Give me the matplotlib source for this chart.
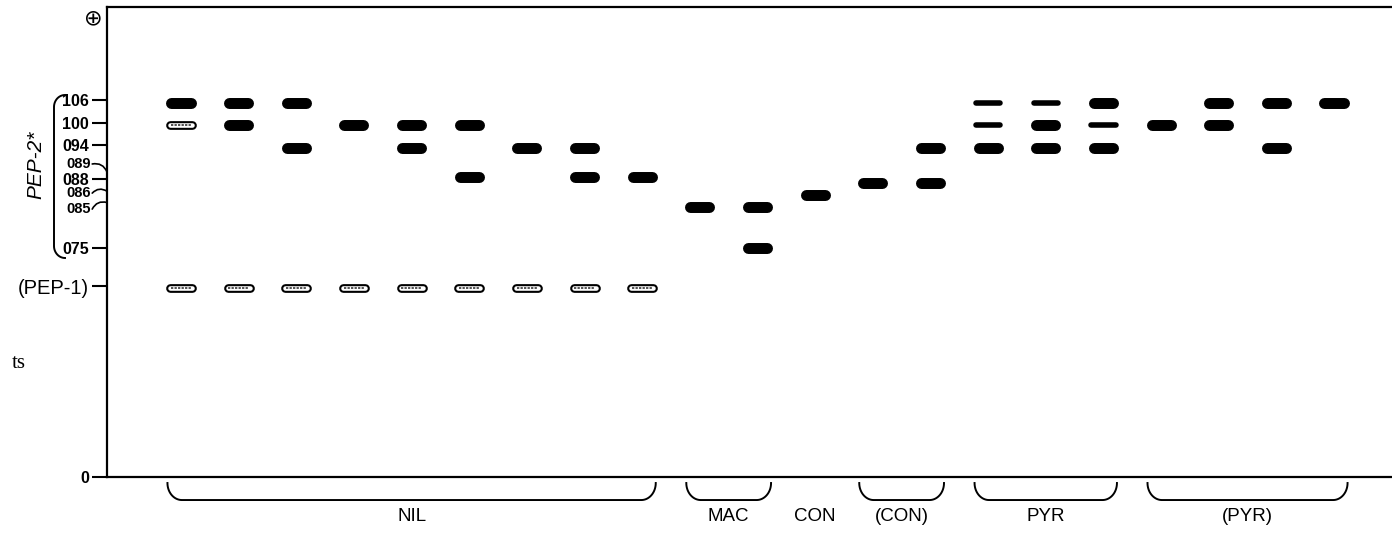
import matplotlib.pyplot as plt
import numpy as np

# allele -> band position (migration units from origin)
allele_pos = {'106': 79.6, '100': 74.9, '094': 70.1, '089': 63.9, '088': 62.5,
              '086': 60.1, '085': 57.4, '075': 48.7, 'PEP-1': 40.3}

# bands per lane: (allele, style)  s = solid, t = thin, o = open
lanes = [
    [('106', 's'), ('100', 'o'), ('PEP-1', 'o')],
    [('106', 's'), ('100', 's'), ('PEP-1', 'o')],
    [('106', 's'), ('094', 's'), ('PEP-1', 'o')],
    [('100', 's'), ('PEP-1', 'o')],
    [('100', 's'), ('094', 's'), ('PEP-1', 'o')],
    [('100', 's'), ('089', 's'), ('PEP-1', 'o')],
    [('094', 's'), ('PEP-1', 'o')],
    [('094', 's'), ('089', 's'), ('PEP-1', 'o')],
    [('089', 's'), ('PEP-1', 'o')],
    [('085', 's')],
    [('085', 's'), ('075', 's')],
    [('086', 's')],
    [('088', 's')],
    [('094', 's'), ('088', 's')],
    [('106', 't'), ('100', 't'), ('094', 's')],
    [('106', 't'), ('100', 's'), ('094', 's')],
    [('106', 's'), ('100', 't'), ('094', 's')],
    [('100', 's')],
    [('106', 's'), ('100', 's')],
    [('106', 's'), ('094', 's')],
    [('106', 's')],
]

groups = ['NIL', 'MAC', 'CON', '(CON)', 'PYR', '(PYR)']
group_lanes = [(1, 9), (10, 11), (12, 12), (13, 14), (15, 17), (18, 21)]

tick_labels = ['106', '100', '094', '088', '075', '(PEP-1)', '0']
tick_pos = [80.2, 75.4, 70.6, 63.3, 48.8, 40.6, 0]
# labels joined to the axis by a small curve: (label, text y, axis y)
curved_labels = [('089', 66.6, 64.9), ('086', 60.4, 60.8), ('085', 57.0, 58.4)]

fig = plt.figure(figsize=(13.92, 5.34), dpi=100)
ax = fig.add_axes([107 / 1392, 57 / 534, 1285 / 1392, 470 / 534])
ax.set_xlim(-0.2836, 22.006)
ax.set_ylim(0, 100)

ax.spines['right'].set_visible(False)
for sp in ['left', 'bottom', 'top']:
    ax.spines[sp].set_linewidth(1.6)

for i, bands in enumerate(lanes):
    x = i + 1
    for allele, style in bands:
        y = allele_pos[allele]
        if style == 's':
            ax.plot([x - 0.165, x + 0.165], [y, y], color='black', lw=7.9,
                    solid_capstyle='round')
        elif style == 't':
            ax.plot([x - 0.21, x + 0.21], [y, y], color='black', lw=4.0,
                    solid_capstyle='round')
        else:
            ax.plot([x - 0.19, x + 0.19], [y, y], color='black', lw=6.3,
                    solid_capstyle='round')
            ax.plot([x - 0.19, x + 0.19], [y, y], color='white', lw=3.3,
                    solid_capstyle='round')
            ax.plot([x - 0.18, x + 0.18], [y, y], color='#222222', lw=1.1,
                    ls=(0, (1.5, 0.8)))

ax.set_xticks([])
ax.set_yticks(tick_pos, tick_labels)
ax.tick_params(axis='y', direction='out', length=11, width=1.5, pad=2)
for lab in ax.get_yticklabels():
    lab.set_fontfamily('Liberation Sans')
    if lab.get_text() == '(PEP-1)':
        lab.set_fontsize(14.5)
    else:
        lab.set_fontsize(11.5)
        lab.set_fontweight('bold')

for lab, ty, ay in curved_labels:
    ax.text(-0.0125, ty, lab, transform=ax.get_yaxis_transform(), ha='right',
            va='center', fontsize=10.5, fontweight='bold', family='Liberation Sans')
    ax.annotate('', xy=(0, ay), xycoords=ax.get_yaxis_transform(),
                xytext=(-0.0115, ty), textcoords=ax.get_yaxis_transform(),
                arrowprops=dict(arrowstyle='-', lw=1.2, color='black',
                                shrinkA=0, shrinkB=0,
                                connectionstyle='arc3,rad=-0.4'),
                annotation_clip=False)

# anode symbol
ax.text(-0.0109, 97.6, '\u2295', transform=ax.get_yaxis_transform(),
        ha='center', va='center', fontsize=16)

# group brackets and labels
trans = ax.get_xaxis_transform()
y_top, y_bot, rx = -0.0128, -0.049, 0.25
t = np.linspace(0, np.pi / 2, 20)
for name, (a, b) in zip(groups, group_lanes):
    if b > a:
        x0, x1 = a - 0.235, b + 0.235
        xs = np.concatenate([x0 + rx * (1 - np.cos(t)), x1 - rx * (1 - np.cos(t[::-1]))])
        ys = np.concatenate([y_top - (y_top - y_bot) * np.sin(t),
                             y_top - (y_top - y_bot) * np.sin(t[::-1])])
        ax.plot(xs, ys, color='black', lw=1.4, transform=trans, clip_on=False)
    ax.text((a + b) / 2, -0.084, name, transform=trans, ha='center', va='center',
            fontsize=13.5, family='Liberation Sans')

# large bracket and rotated label on the left
s = np.linspace(0, np.pi / 2, 15)
bx = np.concatenate([65 - 11 * np.sin(s), 54 + 11 * (1 - np.cos(s))])
by = np.concatenate([95 + 12 * (1 - np.cos(s)), 246 + 12 * np.sin(s)])
fig.add_artist(plt.Line2D(bx / 1392, 1 - by / 534, color='black', lw=1.4))
fig.text(36 / 1392, 1 - 165 / 534, 'PEP-2*', rotation=90, ha='center', va='center',
         fontsize=15, style='italic', family='Liberation Sans')

fig.text(12 / 1392, 1 - 363 / 534, 'ts', ha='left', va='center', fontsize=15,
         family='Liberation Serif')

fig.savefig('out.png', dpi=100)
